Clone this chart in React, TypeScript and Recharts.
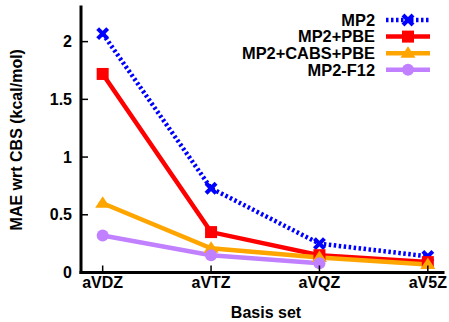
import React from 'react';
import { LineChart, Line, XAxis, YAxis, Legend } from 'recharts';

const categories = ['aVDZ', 'aVTZ', 'aVQZ', 'aV5Z'];
const mp2: (number | null)[] = [2.07, 0.73, 0.25, 0.14];
const mp2Pbe: (number | null)[] = [1.72, 0.35, 0.15, 0.09];
const mp2CabsPbe: (number | null)[] = [0.6, 0.21, 0.13, 0.07];
const mp2F12: (number | null)[] = [0.32, 0.15, 0.08, null];
const yTicks = [0, 0.5, 1, 1.5, 2];
const xTicks = [0, 1, 2, 3];

const data = categories.map((c, i) => ({
  x: i,
  name: c,
  mp2: mp2[i],
  pbe: mp2Pbe[i],
  cabs: mp2CabsPbe[i],
  f12: mp2F12[i],
}));

type Marker = 'cross' | 'square' | 'triangle' | 'circle';
const series: { key: string; name: string; color: string; marker: Marker; dotted: boolean }[] = [
  { key: 'mp2', name: 'MP2', color: '#0000ff', marker: 'cross', dotted: true },
  { key: 'pbe', name: 'MP2+PBE', color: '#ff0000', marker: 'square', dotted: false },
  { key: 'cabs', name: 'MP2+CABS+PBE', color: '#ffa500', marker: 'triangle', dotted: false },
  { key: 'f12', name: 'MP2-F12', color: '#c080ff', marker: 'circle', dotted: false },
];

const FONT = '"Liberation Sans", Arial, sans-serif';

function drawMarker(marker: Marker, cx: number, cy: number, color: string, key?: any) {
  switch (marker) {
    case 'cross':
      return (
        <g key={key}>
          <line x1={cx - 5} y1={cy - 5} x2={cx + 5} y2={cy + 5} stroke={color} strokeWidth={4} />
          <line x1={cx - 5} y1={cy + 5} x2={cx + 5} y2={cy - 5} stroke={color} strokeWidth={4} />
        </g>
      );
    case 'square':
      return <rect key={key} x={cx - 6} y={cy - 6} width={12} height={12} fill={color} />;
    case 'triangle':
      return <polygon key={key} points={`${cx},${cy - 7} ${cx + 7.5},${cy + 4.5} ${cx - 7.5},${cy + 4.5}`} fill={color} />;
    default:
      return <circle key={key} cx={cx} cy={cy} r={6} fill={color} />;
  }
}

const makeDot = (marker: Marker, color: string) => (props: any) => {
  const { cx, cy, index } = props;
  if (cx == null || cy == null || props.value == null) return <g key={`e${index}`} />;
  return drawMarker(marker, cx, cy, color, `d${index}`);
};

const LeftTick = (props: any) => {
  const { x, y, payload } = props;
  return (
    <g>
      <line x1={x} x2={x + 7} y1={y} y2={y} stroke="#000" strokeWidth={1.5} />
      <text x={x - 9} y={y + 5.7} textAnchor="end" fontFamily={FONT} fontWeight="bold" fontSize={16} fill="#000">
        {payload.value}
      </text>
    </g>
  );
};

const RightTick = (props: any) => {
  const { x, y } = props;
  return <line x1={x} x2={x - 7} y1={y} y2={y} stroke="#000" strokeWidth={1.5} />;
};

const BottomTick = (props: any) => {
  const { x, y, payload } = props;
  return (
    <g>
      <line x1={x} x2={x} y1={y} y2={y - 7} stroke="#000" strokeWidth={1.5} />
      <text x={x} y={y + 15.5} textAnchor="middle" fontFamily={FONT} fontWeight="bold" fontSize={16} fill="#000">
        {categories[payload.value]}
      </text>
    </g>
  );
};

const TopTick = (props: any) => {
  const { x, y } = props;
  return <line x1={x} x2={x} y1={y} y2={y + 7} stroke="#000" strokeWidth={1.5} />;
};

const renderLegend = () => (
  <svg width={449} height={90} style={{ position: 'absolute', left: 0, top: 0, overflow: 'visible' }}>
    {series.map((s, i) => {
      const y = 20 + i * 16.6;
      return (
        <g key={s.key}>
          <text x={375} y={y + 5.7} textAnchor="end" fontFamily={FONT} fontWeight="bold" fontSize={16.4} fill="#000">
            {s.name}
          </text>
          <line
            x1={386}
            x2={430}
            y1={y}
            y2={y}
            stroke={s.color}
            strokeWidth={4.5}
            strokeDasharray={s.dotted ? '2.5 2.5' : undefined}
          />
          {drawMarker(s.marker, 408, y, s.color)}
        </g>
      );
    })}
  </svg>
);

const axisLine = { stroke: '#000', strokeWidth: 3, strokeLinecap: 'square' as const };

export default function App() {
  return (
    <div style={{ position: 'absolute', left: 0, top: 0, width: 449, height: 322, background: '#fff' }}>
      <LineChart width={449} height={322} data={data} margin={{ top: 7, right: 6, left: 0, bottom: 0 }}>
        <XAxis
          xAxisId="b"
          type="number"
          dataKey="x"
          domain={[-0.2, 3.14]}
          ticks={xTicks}
          allowDataOverflow
          height={49.5}
          tickSize={0}
          tickMargin={0}
          axisLine={axisLine}
          tickLine={false}
          tick={<BottomTick />}
          interval={0}
          label={{
            value: 'Basis set',
            position: 'center',
            dx: 4,
            dy: 15,
            fontFamily: FONT,
            fontWeight: 'bold',
            fontSize: 16,
            fill: '#000',
          }}
        />
        <XAxis
          xAxisId="t"
          orientation="top"
          type="number"
          dataKey="x"
          domain={[-0.2, 3.14]}
          ticks={xTicks}
          allowDataOverflow
          height={0}
          tickSize={0}
          tickMargin={0}
          axisLine={axisLine}
          tickLine={false}
          tick={<TopTick />}
          interval={0}
        />
        <YAxis
          yAxisId="l"
          type="number"
          domain={[0, 2.3]}
          ticks={yTicks}
          allowDataOverflow
          width={81}
          tickSize={0}
          tickMargin={0}
          axisLine={axisLine}
          tickLine={false}
          tick={<LeftTick />}
          interval={0}
          label={{
            value: 'MAE wrt CBS (kcal/mol)',
            angle: -90,
            position: 'center',
            dx: -24,
            fontFamily: FONT,
            fontWeight: 'bold',
            fontSize: 16,
            fill: '#000',
          }}
        />
        <YAxis
          yAxisId="r"
          orientation="right"
          type="number"
          domain={[0, 2.3]}
          ticks={yTicks}
          allowDataOverflow
          width={0}
          tickSize={0}
          tickMargin={0}
          axisLine={axisLine}
          tickLine={false}
          tick={<RightTick />}
          interval={0}
        />
        <Legend
          content={renderLegend}
          verticalAlign="top"
          wrapperStyle={{ position: 'absolute', left: 0, top: 0, width: 0, height: 0, overflow: 'visible' }}
        />
        {series.map((s) => (
          <Line
            key={s.key}
            xAxisId="b"
            yAxisId="l"
            type="linear"
            dataKey={s.key}
            name={s.name}
            stroke={s.color}
            strokeWidth={4.5}
            strokeDasharray={s.dotted ? '2.5 2.5' : undefined}
            dot={makeDot(s.marker, s.color)}
            activeDot={false}
            isAnimationActive={false}
            connectNulls={false}
          />
        ))}
      </LineChart>
    </div>
  );
}
